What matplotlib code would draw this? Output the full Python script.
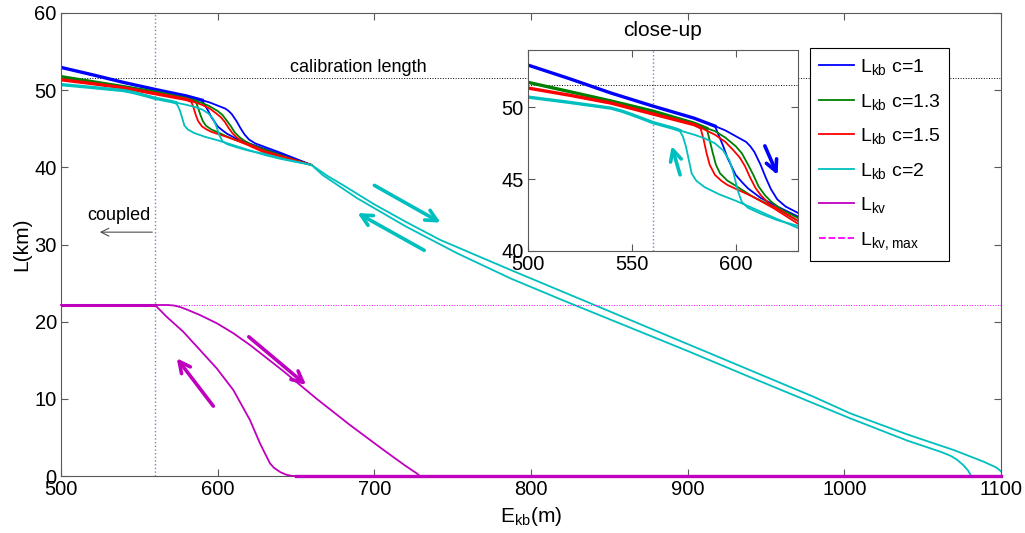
import numpy as np
import matplotlib.pyplot as plt
from matplotlib.lines import Line2D

plt.rcParams['font.family'] = ['Liberation Sans', 'DejaVu Sans']
plt.rcParams['mathtext.fontset'] = 'custom'
plt.rcParams['mathtext.rm'] = 'Liberation Sans'
plt.rcParams['font.size'] = 14

# --- L_kb loops (upper = advancing path, lower = return path) ---
blue_up_E = [500, 520, 540, 560, 580, 590, 595, 600, 605, 607, 609, 612, 614.5, 617, 620, 624, 630, 640, 650, 660]
blue_up_L = [52.95, 52.0, 51.0, 50.1, 49.25, 48.7, 48.4, 48.0, 47.6, 47.3, 46.9, 46.0, 45.1, 44.3, 43.6, 43.1, 42.65, 41.9, 41.1, 40.3]
blue_dn_E = [590, 592, 594, 596, 598, 600, 603, 606, 612, 620, 630, 640, 650, 660]
blue_dn_L = [48.7, 48.0, 47.3, 46.5, 45.9, 45.3, 44.8, 44.35, 43.7, 43.1, 42.4, 41.7, 41.0, 40.3]

green_up_E = [500, 520, 540, 560, 580, 586, 590, 595, 600, 603, 606, 608.5, 611, 614, 617, 622, 630, 640, 650, 660]
green_up_L = [51.75, 51.1, 50.45, 49.75, 48.9, 48.55, 48.35, 47.9, 47.3, 46.8, 46.0, 45.3, 44.5, 43.9, 43.45, 42.9, 42.3, 41.6, 40.9, 40.3]
green_dn_E = [586, 587.5, 589, 590.5, 592.5, 596, 600.5, 608, 618, 630, 640, 650, 660]
green_dn_L = [48.55, 47.7, 46.8, 46.0, 45.4, 44.9, 44.5, 43.8, 43.1, 42.1, 41.5, 40.9, 40.3]

red_up_E = [500, 520, 540, 560, 580, 583, 590, 595, 599, 602, 604.5, 607, 609.5, 612, 616, 622, 630, 640, 650, 660]
red_up_L = [51.35, 50.85, 50.3, 49.55, 48.8, 48.6, 48.1, 47.6, 47.0, 46.5, 45.9, 45.1, 44.4, 43.9, 43.3, 42.8, 42.1, 41.5, 40.9, 40.3]
red_dn_E = [583, 584.5, 586, 587.5, 590, 593, 596, 602, 608, 618, 630, 640, 650, 660]
red_dn_L = [48.6, 47.8, 46.8, 46.0, 45.3, 44.9, 44.6, 44.2, 43.8, 43.0, 41.9, 41.4, 40.85, 40.3]

cyan_up_E = [500, 520, 530, 540, 545, 550, 555, 560, 570, 573, 580, 585, 590, 594, 597, 599, 601, 603, 606, 612, 620, 630, 640, 650, 660,
             670, 680, 700, 720, 742, 787, 820, 860, 900, 940, 980, 1004, 1040, 1070, 1089, 1097, 1100]
cyan_up_L = [50.72, 50.35, 50.15, 49.95, 49.75, 49.5, 49.23, 48.95, 48.55, 48.4, 48.1, 47.85, 47.5, 47.0, 46.3, 45.4, 44.2, 43.4, 43.0, 42.6, 42.15, 41.75, 41.2, 40.75, 40.3,
             38.9, 37.7, 35.2, 32.95, 30.6, 26.7, 23.9, 20.5, 17.1, 13.7, 10.3, 8.1, 5.4, 3.35, 1.85, 1.1, 0.6]
cyan_dn_E = [573, 574.5, 576, 577.2, 578.8, 581, 585, 592, 600, 608, 618, 630, 640, 650, 660,
             667, 689, 720, 753, 787, 820, 860, 900, 940, 980, 1004, 1040, 1062, 1068, 1072, 1076, 1079, 1081]
cyan_dn_L = [48.4, 48.0, 47.3, 46.5, 45.4, 44.9, 44.45, 43.95, 43.5, 43.0, 42.35, 41.6, 41.1, 40.7, 40.3,
             39.0, 36.0, 32.35, 28.85, 25.6, 22.8, 19.5, 16.2, 12.8, 9.45, 7.45, 4.6, 3.1, 2.6, 2.1, 1.4, 0.7, 0.0]

# --- L_kv ---
kv_up_E = [500, 560, 568, 572, 576, 580, 588.7, 599.4, 610, 620.6, 641.9, 663.2, 684.5, 705.7, 720, 727, 729, 1100]
kv_up_L = [22.16, 22.16, 22.16, 22.1, 21.9, 21.6, 20.86, 19.8, 18.5, 16.98, 13.6, 10.0, 6.6, 3.4, 1.3, 0.35, 0, 0]
kv_dn_E = [560, 567.4, 578, 588.7, 599.4, 610, 620.6, 627, 630.5, 633.4, 636, 640, 644, 648, 1100]
kv_dn_L = [22.16, 20.64, 18.7, 16.33, 13.95, 11.14, 7.26, 4.24, 2.8, 1.64, 1.05, 0.5, 0.15, 0, 0]
kv_max = 22.16
E_couple = 560
L_calib = 51.55

loops = [
    (blue_up_E, blue_up_L, blue_dn_E, blue_dn_L, '#0000ff', r'$\mathregular{L_{kb}}$ c=1'),
    (green_up_E, green_up_L, green_dn_E, green_dn_L, '#008000', r'$\mathregular{L_{kb}}$ c=1.3'),
    (red_up_E, red_up_L, red_dn_E, red_dn_L, '#ff0000', r'$\mathregular{L_{kb}}$ c=1.5'),
    (cyan_up_E, cyan_up_L, cyan_dn_E, cyan_dn_L, '#00bfbf', r'$\mathregular{L_{kb}}$ c=2'),
]
kv_color = '#bf00bf'
kvmax_color = '#ff00ff'
spine_col = '0.35'

fig = plt.figure(figsize=(10.25, 5.33), dpi=100)
ax = fig.add_axes([61/1025, 57/533, 940/1025, 463/533])
ax_in = fig.add_axes([528/1025, 282/533, 270/1025, 201/533])

handles = []
for a in [ax, ax_in]:
    a.axvline(E_couple, color='#8080c0', ls=':', lw=1)
    a.axhline(L_calib, color='k', ls=':', lw=0.7)
    for upE, upL, dnE, dnL, col, lab in loops:
        upE = np.array(upE)
        upL = np.array(upL)
        h, = a.plot(upE, upL, color=col, lw=1.3, label=lab)
        a.plot(dnE, dnL, color=col, lw=1.3)
        m = upE <= dnE[0]
        a.plot(upE[m], upL[m], color=col, lw=2.4)
        if a is ax:
            handles.append(h)
    if a is ax:
        a.plot([E_couple, 1100], [kv_max, kv_max], color=kvmax_color, ls=':', lw=0.7)
        a.plot(kv_up_E, kv_up_L, color=kv_color, lw=1.3, clip_on=False, zorder=3)
        a.plot(kv_dn_E, kv_dn_L, color=kv_color, lw=1.3, clip_on=False, zorder=3)
        a.plot([650, 1100], [0, 0], color=kv_color, lw=2.4, clip_on=False, zorder=3)
        a.plot([500, E_couple], [kv_max, kv_max], color=kv_color, lw=2.2)
        handles.append(Line2D([], [], color=kv_color, lw=1.3, label=r'$\mathregular{L_{kv}}$'))
        handles.append(Line2D([], [], color=kvmax_color, lw=1.3, ls='--', label=r'$\mathregular{L_{kv,max}}$'))

for a in [ax, ax_in]:
    a.tick_params(direction='in', top=True, right=True, length=5, color=spine_col, labelsize=14.5, pad=3)
    for s in a.spines.values():
        s.set_color(spine_col)

ax.set_xlim(500, 1100)
ax.set_ylim(0, 60)
ax.set_xticks(np.arange(500, 1101, 100))
ax.set_yticks(np.arange(0, 61, 10))
ax.set_xlabel(r'$\mathregular{E_{kb}}$(m)', fontsize=15, labelpad=4)
ax.set_ylabel('L(km)', fontsize=15, labelpad=2)

ax_in.set_xlim(500, 630)
ax_in.set_ylim(40, 54)
ax_in.set_xticks([500, 550, 600])
ax_in.set_yticks([40, 45, 50])
ax_in.set_title('close-up', fontsize=15, pad=10)

ax.text(690, 53.0, 'calibration length', ha='center', va='center', fontsize=13)
ax.text(537, 33.8, 'coupled', ha='center', va='center', fontsize=13)
ax.annotate('', xy=(523, 31.6), xytext=(E_couple, 31.6),
            arrowprops=dict(arrowstyle='->', color='0.3', lw=0.8))

arrow_kw = dict(arrowstyle='->', lw=2.6, mutation_scale=20)
ax.annotate('', xy=(743.8, 32.66), xytext=(698.5, 37.84), arrowprops=dict(color='#00bfbf', **arrow_kw))
ax.annotate('', xy=(687.7, 34.25), xytext=(733.4, 29.07), arrowprops=dict(color='#00bfbf', **arrow_kw))
ax.annotate('', xy=(572.8, 15.55), xytext=(598.3, 8.77), arrowprops=dict(color=kv_color, **arrow_kw))
ax.annotate('', xy=(657.8, 11.57), xytext=(618.5, 18.27), arrowprops=dict(color=kv_color, **arrow_kw))
ax_in.annotate('', xy=(620.7, 45.12), xytext=(613.5, 47.5), arrowprops=dict(color='#0000ff', **arrow_kw))
ax_in.annotate('', xy=(568.8, 47.5), xytext=(573.6, 45.12), arrowprops=dict(color='#00bfbf', **arrow_kw))

leg = ax.legend(handles=handles, loc='upper left', bbox_to_anchor=(0.797, 0.924), borderaxespad=0,
                fontsize=14, handlelength=1.8, handletextpad=0.3, labelspacing=0.75,
                fancybox=False, framealpha=1, edgecolor='k', borderpad=0.45)
leg.get_frame().set_linewidth(0.8)
leg.set_zorder(5)

fig.savefig('out.png', dpi=100)
